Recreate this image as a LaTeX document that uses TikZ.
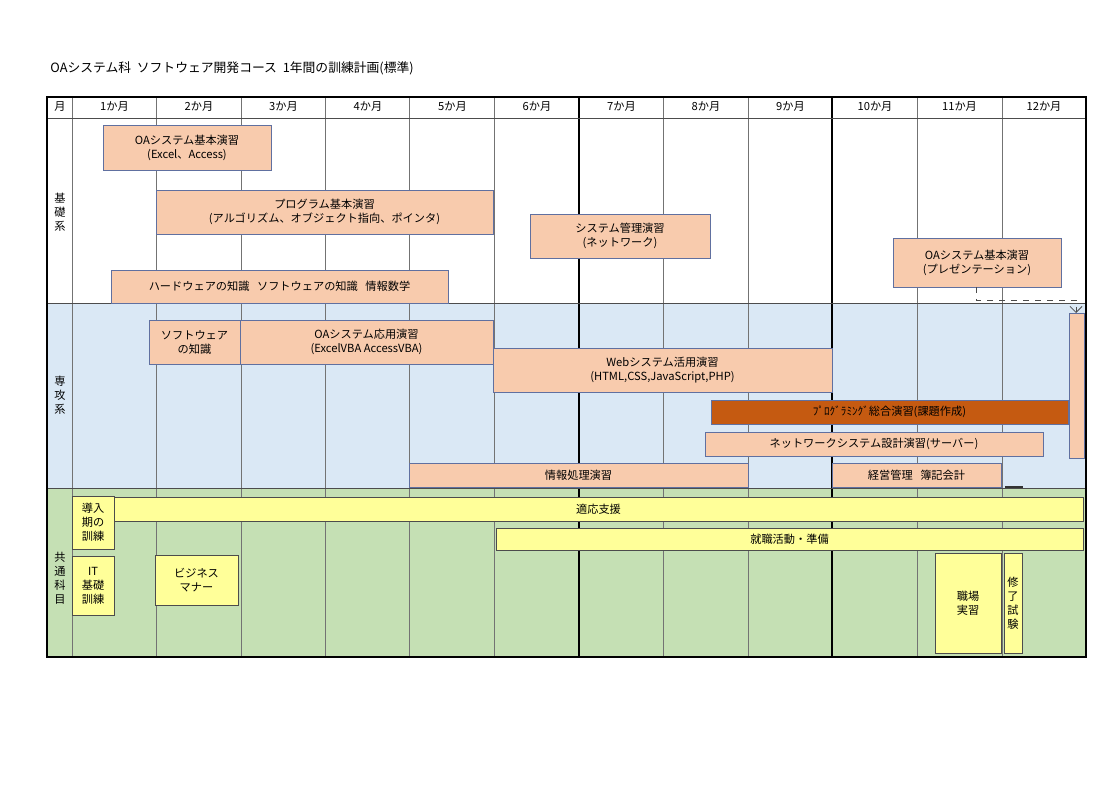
\documentclass[tikz,border=0pt]{standalone}
\usepackage{fontspec}
\setmainfont{Noto Sans CJK JP}
\usetikzlibrary{arrows.meta}
\definecolor{salmon}{HTML}{F8CBAD}
\definecolor{rust}{HTML}{C55A11}
\definecolor{paleblue}{HTML}{DAE8F5}
\definecolor{palegreen}{HTML}{C5E0B4}
\definecolor{paleyellow}{HTML}{FFFF99}
\definecolor{boxline}{HTML}{6070A0}

\begin{document}
\begin{tikzpicture}[x=0.5pt,y=-0.5pt,font=\fontsize{5.6}{7}\selectfont,
  course/.style={draw=boxline,fill=salmon,line width=0.4pt},
  common/.style={draw=black!70,fill=paleyellow,line width=0.4pt},
  lbl/.style={inner sep=0pt,align=center}]
\useasboundingbox (0,0) rectangle (1120,791);
% title
\node[lbl,anchor=west] (title) at (50,68) {\fontsize{6.4}{8}\selectfont OAシステム科\ \ ソフトウェア開発コース\ \ 1年間の訓練計画(標準)};
% bands
\fill[white] (47,97) rectangle (1086,303);
\fill[paleblue] (47,303) rectangle (1086,488);
\fill[palegreen] (47,488) rectangle (1086,657);
% grid
\foreach \x in {72,156,241,325,409,494,663,748,917,1002}
  \draw[black!55,line width=0.5pt] (\x,97) -- (\x,657);
\foreach \x in {579,832}
  \draw[black,line width=1.1pt] (\x,97) -- (\x,657);
\draw[black!70] (47,118) -- (1086,118);
\draw[black!70] (47,303) -- (1086,303);
\draw[black!70] (47,488) -- (1086,488);
\draw[black,line width=1.1pt] (47,97) rectangle (1086,657);
% header
\node[lbl] (hmonth) at (60,107) {月};
\foreach \m [count=\i] in {1,...,12}
  \node[lbl] (h\i) at ({72+84.5*\i-42},107) {\m か月};
% section labels
\node[lbl] (basic) at (60,212) {基\\礎\\系};
\node[lbl] (major) at (60,395) {専\\攻\\系};
\node[lbl] (shared) at (60,578) {共\\通\\科\\目};
% basic courses
\draw[course] (103,125) rectangle (271,170);
\node[lbl] (oabasic) at (187,147.5) {OAシステム基本演習\\(Excel、Access)};
\draw[course] (156,190) rectangle (493,234);
\node[lbl] (prog) at (324.5,212) {プログラム基本演習\\(アルゴリズム、オブジェクト指向、ポインタ)};
\draw[course] (530,214) rectangle (710,258);
\node[lbl] (sysadm) at (620,236) {システム管理演習\\(ネットワーク)};
\draw[course] (893,238) rectangle (1061,287);
\node[lbl] (oapres) at (977,262.5) {OAシステム基本演習\\(プレゼンテーション)};
\draw[course] (111,270) rectangle (448,303);
\node[lbl] (hwsw) at (279.5,286.5) {ハードウェアの知識\ \ \ ソフトウェアの知識\ \ \ 情報数学};
% major courses
\draw[course] (149,320) rectangle (240,364);
\node[lbl] (swknow) at (194.5,342) {ソフトウェア\\の知識};
\draw[course] (240,320) rectangle (493,364);
\node[lbl] (oaapp) at (366.5,342) {OAシステム応用演習\\(ExcelVBA AccessVBA)};
\draw[course] (493,348) rectangle (832,392);
\node[lbl] (web) at (662.5,370) {Webシステム活用演習\\(HTML,CSS,JavaScript,PHP)};
\draw[course,fill=rust] (711,400) rectangle (1068,424);
\node[lbl] (progall) at (889.5,412) {ﾌﾟﾛｸﾞﾗﾐﾝｸﾞ総合演習(課題作成)};
\draw[course] (705,432) rectangle (1043,456);
\node[lbl] (netsys) at (874,444) {ネットワークシステム設計演習(サーバー)};
\draw[course] (409,463) rectangle (748,487);
\node[lbl] (infoproc) at (578.5,475) {情報処理演習};
\draw[course] (832,463) rectangle (1001,487);
\node[lbl] (mgmt) at (916.5,475) {経営管理\ \ \ 簿記会計};
\draw[course] (1069,313) rectangle (1084,458);
\coordinate (pres) at (976,287);
\coordinate (tallbar) at (1076,313);
\draw[black!70,dashed,-{Straight Barb[length=3pt]}] (pres) -- (976,300) -- (1076,300) -- (tallbar);
\draw[black!80,line width=0.8pt] (1005,487) -- (1023,487);
% common courses
\draw[common] (72,496) rectangle (114,549);
\node[lbl] (intro) at (93,522.5) {導入\\期の\\訓練};
\draw[common] (114,497) rectangle (1083,521);
\node[lbl] (adapt) at (598.5,509) {適応支援};
\draw[common] (496,528) rectangle (1083,550);
\node[lbl] (job) at (789.5,539) {就職活動・準備};
\draw[common] (72,556) rectangle (114,615);
\node[lbl] (itbase) at (93,585.5) {IT\\基礎\\訓練};
\draw[common] (155,555) rectangle (238,605);
\node[lbl] (manner) at (196.5,580) {ビジネス\\マナー};
\draw[common] (935,553) rectangle (1001,653);
\node[lbl] (intern) at (968,603) {職場\\実習};
\draw[common] (1004,553) rectangle (1022,653);
\node[lbl] (exam) at (1013,603) {修\\了\\試\\験};
\end{tikzpicture}
\end{document}
